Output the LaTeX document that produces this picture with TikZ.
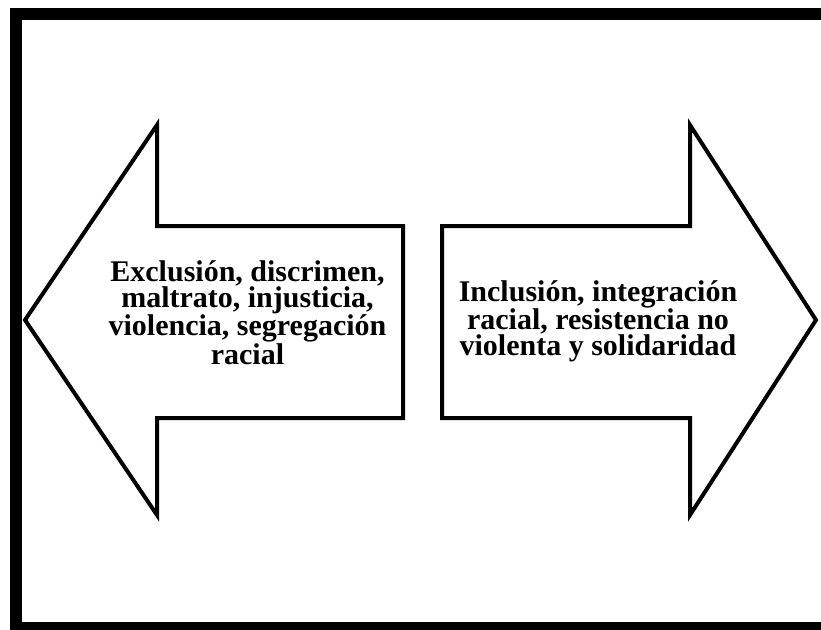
\documentclass[tikz,border=0pt]{standalone}
\usepackage{fontspec}
\setmainfont{Liberation Serif}
\usepackage{tikz}
\tikzstyle{frame}=[draw=black,line width=12pt]
\tikzstyle{bigarrow}=[draw=black,fill=white,line width=4pt,line join=miter]
\tikzstyle{arrowtext}=[align=center,inner sep=0pt,font=\bfseries\fontsize{30}{26}\selectfont]
\begin{document}
\begin{tikzpicture}[x=1pt,y=-1pt]
    \useasboundingbox (0,0) rectangle (821,629);
    \clip (0,0) rectangle (821,629);
    \draw[frame] (16,14) rectangle (840,628);
    % left arrow
    \draw[bigarrow] (25,320) -- (157,125) -- (157,226) -- (403,226) -- (403,418) -- (157,418) -- (157,515) -- cycle;
    % right arrow
    \draw[bigarrow] (442,226) -- (690,226) -- (690,125) -- (816,320) -- (690,515) -- (690,418) -- (442,418) -- cycle;
    \node[arrowtext] at (247.5,312.5) (neg) {Exclusión, discrimen,\\ maltrato, injusticia,\\ violencia, segregación\\ racial};
    \node[arrowtext] at (598,321.5) (pos) {Inclusión, integración\\ racial, resistencia no\\ violenta y solidaridad};
  \end{tikzpicture}
\end{document}
